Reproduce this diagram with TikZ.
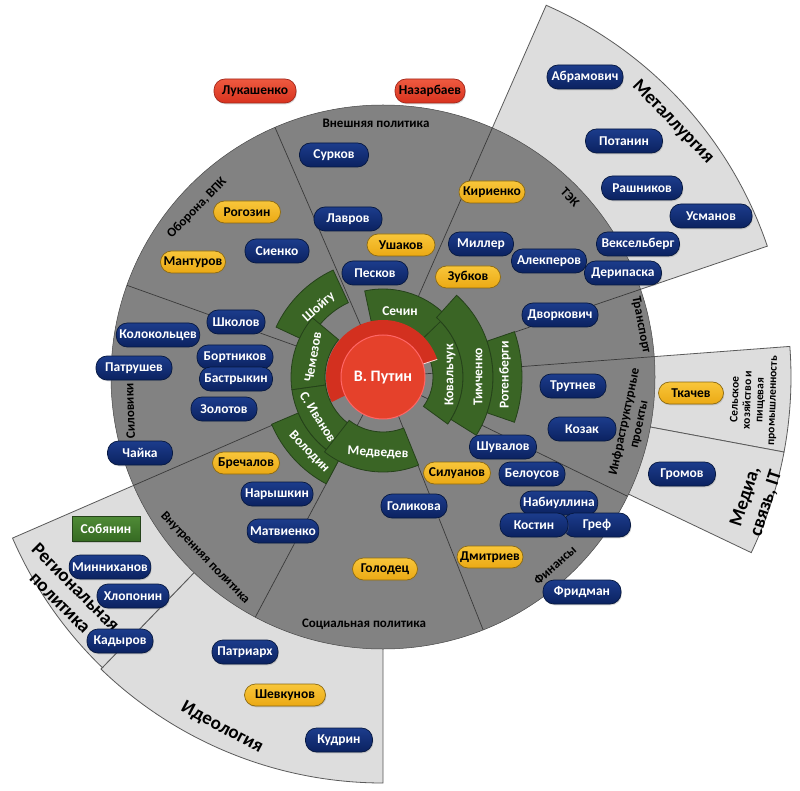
\documentclass[tikz,border=0pt]{standalone}
\usepackage{fontspec}
\setmainfont{Carlito}
\usetikzlibrary{shadows}
\definecolor{wheelgray}{HTML}{828282}
\definecolor{outgray}{HTML}{DDDDDD}
\definecolor{outline}{HTML}{5A5A5A}
\definecolor{divcol}{HTML}{3A3A3A}
\definecolor{greenfill}{HTML}{3A6525}
\definecolor{greendraw}{HTML}{25421A}
\definecolor{navytop}{HTML}{1C3C8C}
\definecolor{navybot}{HTML}{0B2260}
\definecolor{navydraw}{HTML}{061840}
\definecolor{goldtop}{HTML}{F8C63A}
\definecolor{goldbot}{HTML}{EBA914}
\definecolor{golddraw}{HTML}{8C6A12}
\definecolor{redtop}{HTML}{EE5A40}
\definecolor{redbot}{HTML}{D8321E}
\definecolor{redfill}{HTML}{E5412B}
\definecolor{reddraw}{HTML}{A3261A}
\definecolor{ringred}{HTML}{D3301F}
\definecolor{sobtop}{HTML}{4E8A36}
\definecolor{sobbot}{HTML}{356A22}
\newcommand\annulus[4]{(#1:#3pt) arc[start angle=#1,end angle=#2,radius=#3pt] -- (#2:#4pt) arc[start angle=#2,end angle=#1,radius=#4pt] -- cycle}
\newcommand\pill[6]{\node[#2, minimum width=#5pt] (#1) at (#3,#4) {#6};}
\begin{document}
\begin{tikzpicture}[x=1pt,y=-1pt,
  pillbase/.style={rounded corners=11pt, inner xsep=3pt, inner ysep=0pt, line width=0.7pt,
     font=\fontsize{13.5}{14}\selectfont\bfseries,
     drop shadow={shadow xshift=0.8pt, shadow yshift=-1.3pt, opacity=0.3}},
  navy/.style={pillbase, minimum height=24pt, top color=navytop, bottom color=navybot, draw=navydraw, text=white},
  gold/.style={pillbase, minimum height=22pt, top color=goldtop, bottom color=goldbot, draw=golddraw, text=black},
  redp/.style={pillbase, minimum height=24pt, top color=redtop, bottom color=redbot, draw=reddraw, text=black},
  greenbox/.style={minimum height=25pt, inner xsep=3pt, top color=sobtop, bottom color=sobbot, draw=greendraw, line width=0.7pt,
     text=white, font=\fontsize{13.5}{14}\selectfont\bfseries,
     drop shadow={shadow xshift=0.8pt, shadow yshift=-1.3pt, opacity=0.3}},
  seclab/.style={font=\fontsize{13}{15}\selectfont\bfseries, text=black, align=center, inner sep=0pt},
  biglab/.style={font=\fontsize{19}{22}\selectfont\bfseries, text=black, align=center, inner sep=0pt},
  smalllab/.style={font=\fontsize{11.5}{12.5}\selectfont\bfseries, text=black, align=center, inner sep=0pt},
  glab/.style={font=\fontsize{13.5}{14}\selectfont\bfseries, text=white, inner sep=0pt},
  grn/.style={fill=greenfill, draw=greendraw, line width=0.8pt},
  outsec/.style={fill=outgray, draw=outline, line width=0.8pt},
  divline/.style={draw=divcol, line width=0.7pt}]
\useasboundingbox (0,0) rectangle (800,791);
\fill[white] (0,0) rectangle (800,791);

\begin{scope}[shift={(383pt,-377pt)}]
  % outer light sectors
  \path[outsec] \annulus{18.8}{66.3}{250}{406};
  \path[outsec] \annulus{-10.6}{4.3}{250}{408};
  \path[outsec] \annulus{-25.5}{-10.6}{250}{408};
  \path[outsec] \annulus{-134}{-90}{250}{406};
  \path[outsec] \annulus{-156.5}{-134}{250}{404};
  % main wheel
  \fill[wheelgray] (0pt,0pt) circle[radius=272pt];
  \draw[outline!80!black, line width=0.5pt] (0pt,0pt) circle[radius=272pt];
  % dividers
  \foreach \a in {113.4,66.3,18.8,4.3,-26,-68.4,-118,-156.5,160.3}
    \draw[divline] (\a:42pt) -- (\a:272pt);
  % green segments
  \path[grn] \annulus{40}{102}{55}{88};
  \path[grn] \annulus{115}{155}{82}{118};
  \path[grn] \annulus{140}{188}{58}{92};
  \path[grn] \annulus{203}{242}{92}{121};
  \path[grn] \annulus{188}{233}{58}{92};
  \path[grn] \annulus{232}{292}{55}{95};
  \path[grn] \annulus{-36}{44}{50}{80};
  \path[grn] \annulus{-32}{48}{80}{110};
  \path[grn] \annulus{-19}{19}{110}{139};
  % red hub
  \fill[ringred] \annulus{18}{206}{40}{57};
  \draw[white!85!red, line width=0.8pt] (18:42pt) -- (18:57pt);
  \fill[redfill, draw=red!60!white, line width=1pt] (0pt,0pt) circle[radius=42pt];
\end{scope}

% hub and green labels
\node[font=\fontsize{16}{16}\selectfont\bfseries, text=white] (putin) at (383,378) {В. Путин};
\node[glab, rotate=42] (shoigu) at (319,307) {Шойгу};
\node[glab, rotate=80] (chemezov) at (313,357) {Чемезов};
\node[glab, rotate=-58] (ivanov) at (318,417) {С. Иванов};
\node[glab, rotate=-46] (volodin) at (309,452) {Володин};
\node[glab, rotate=-3] (medvedev) at (378,453) {Медведев};
\node[glab] (sechin) at (400,311) {Сечин};
\node[glab, rotate=90] (kovalchuk) at (450,375) {Ковальчук};
\node[glab, rotate=90] (timchenko) at (478,377) {Тимченко};
\node[glab, rotate=90] (rotenberg) at (505,375) {Ротенберги};

% sector labels
\node[seclab] (l_vnesh) at (376,123) {Внешняя политика};
\node[seclab, rotate=46] (l_obor) at (197,208) {Оборона, ВПК};
\node[seclab, rotate=-46] (l_tek) at (570,197) {ТЭК};
\node[seclab, rotate=-79] (l_trans) at (641,325) {Транспорт};
\node[seclab, rotate=78] (l_infra) at (632,423) {Инфраструктурные\\проекты};
\node[seclab, rotate=42] (l_fin) at (555,565) {Финансы};
\node[seclab] (l_soc) at (364,624) {Социальная политика};
\node[seclab, rotate=-46] (l_vnutr) at (205,558) {Внутренняя политика};
\node[seclab, rotate=92] (l_silov) at (130,411) {Силовики};
\node[biglab, rotate=-46] (l_metal) at (673,122) {Металлургия};
\node[biglab, rotate=-28] (l_ideo) at (222,728) {Идеология};
\node[biglab, rotate=-45] (l_region) at (68,595) {Региональная\\политика};
\node[biglab, rotate=72] (l_media) at (756,500) {Медиа,\\связь, IT};
\node[smalllab, rotate=88] (l_agro) at (754,400) {Сельское\\хозяйство и\\пищевая\\промышленность};

% pills
\pill{luk}{redp}{255}{91}{82}{Лукашенко}
\pill{naz}{redp}{430}{91}{70}{Назарбаев}
\pill{surk}{navy}{334}{155}{69}{Сурков}
\pill{rogo}{gold}{247}{212}{67}{Рогозин}
\pill{lavr}{navy}{348}{219}{68}{Лавров}
\pill{sien}{navy}{277}{251}{64}{Сиенко}
\pill{mant}{gold}{193}{262}{65}{Мантуров}
\pill{ushak}{gold}{401}{245}{68}{Ушаков}
\pill{pesk}{navy}{375}{273}{66}{Песков}
\pill{kiri}{gold}{492}{192}{66}{Кириенко}
\pill{mill}{navy}{481}{244}{65}{Миллер}
\pill{zubk}{gold}{468}{277}{65}{Зубков}
\pill{alek}{navy}{549}{261}{75}{Алекперов}
\pill{veks}{navy}{638}{244}{83}{Вексельберг}
\pill{deri}{navy}{623}{273}{77}{Дерипаска}
\pill{dvor}{navy}{560}{315}{76}{Дворкович}
\pill{abra}{navy}{585}{77}{76}{Абрамович}
\pill{pota}{navy}{624}{141}{77}{Потанин}
\pill{rash}{navy}{642}{188}{81}{Рашников}
\pill{usma}{navy}{711}{216}{82}{Усманов}
\pill{trut}{navy}{573}{386}{66}{Трутнев}
\pill{koza}{navy}{582}{429}{68}{Козак}
\pill{tkach}{gold}{691}{393}{65}{Ткачев}
\pill{grom}{navy}{682}{474}{67}{Громов}
\pill{shuv}{navy}{503}{447}{67}{Шувалов}
\pill{silu}{gold}{457}{473}{67}{Силуанов}
\pill{belo}{navy}{532}{474}{66}{Белоусов}
\pill{nabi}{navy}{559}{503}{77}{Набиуллина}
\pill{gref}{navy}{597}{525}{67}{Греф}
\pill{kost}{navy}{534}{525}{68}{Костин}
\pill{dmit}{gold}{490}{557}{66}{Дмитриев}
\pill{frid}{navy}{582}{592}{78}{Фридман}
\pill{goli}{navy}{414}{506}{66}{Голикова}
\pill{golo}{gold}{385}{569}{65}{Голодец}
\pill{brech}{gold}{246}{463}{67}{Бречалов}
\pill{nary}{navy}{277}{494}{72}{Нарышкин}
\pill{matv}{navy}{283}{531}{70}{Матвиенко}
\pill{chai}{navy}{140}{453}{65}{Чайка}
\pill{zolo}{navy}{224}{409}{66}{Золотов}
\pill{kolo}{navy}{158}{335}{82}{Колокольцев}
\pill{shko}{navy}{236}{322}{58}{Школов}
\pill{patr}{navy}{134}{368}{76}{Патрушев}
\pill{bort}{navy}{235}{357}{76}{Бортников}
\pill{bast}{navy}{236}{379}{73}{Бастрыкин}
\pill{sobya}{greenbox}{106}{529}{68}{Собянин}
\pill{minn}{navy}{110}{567}{81}{Минниханов}
\pill{khlo}{navy}{133}{596}{72}{Хлопонин}
\pill{kady}{navy}{120}{641}{66}{Кадыров}
\pill{patri}{navy}{245}{652}{66}{Патриарх}
\pill{shev}{gold}{285}{695}{81}{Шевкунов}
\pill{kudr}{navy}{339}{740}{67}{Кудрин}
\end{tikzpicture}
\end{document}
